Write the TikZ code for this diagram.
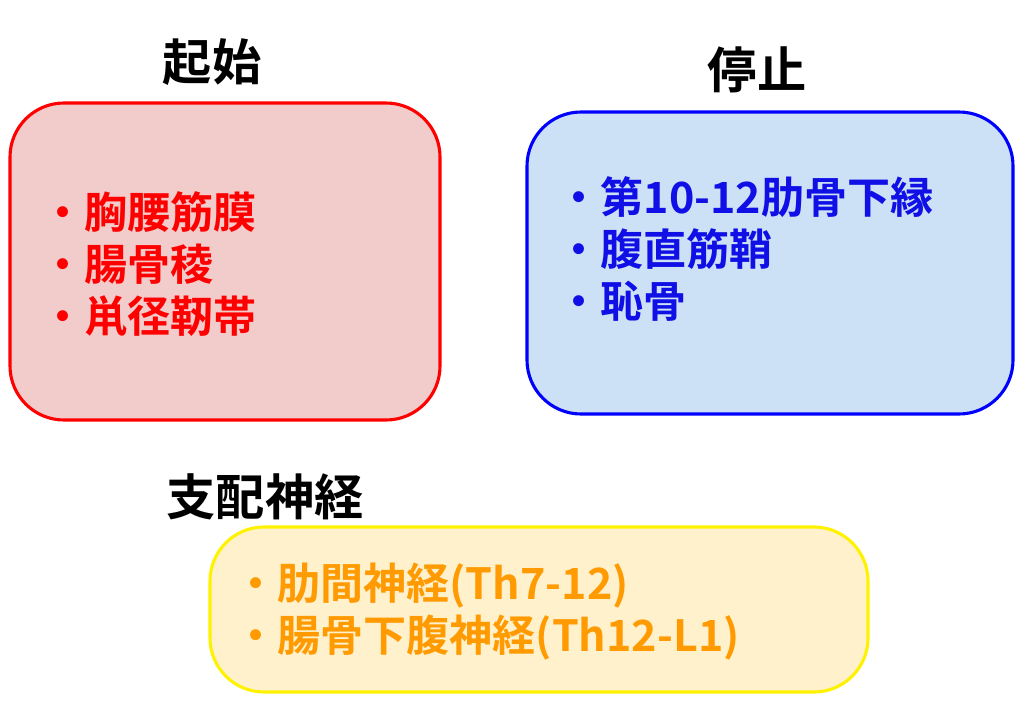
\documentclass[tikz,border=0pt]{standalone}
\usepackage{fontspec}
\setmainfont{Noto Sans CJK JP}[BoldFont={Noto Sans CJK JP Bold}]
\usetikzlibrary{positioning}

\definecolor{originfill}{HTML}{F2CBCB}
\definecolor{insertfill}{HTML}{CCE0F6}
\definecolor{nervefill}{HTML}{FFF1CC}
\definecolor{nervetext}{HTML}{FF9A00}
\definecolor{inserttext}{HTML}{0F0FE6}

\begin{document}
\begin{tikzpicture}[x=0.025cm, y=-0.025cm, line width=2.2pt,
  panel/.style={rounded corners=1.35cm},
  heading/.style={font=\fontsize{35}{40}\selectfont\bfseries, inner sep=0pt},
  items/.style={font=\fontsize{30.6}{37}\selectfont\bfseries, align=left, inner sep=0pt, anchor=west}]

  \useasboundingbox (0,0) rectangle (1024,702);

  % Panels
  \draw[panel, draw=red, fill=originfill] (10,103) rectangle (440,420);
  \draw[panel, draw=blue, fill=insertfill] (527,112) rectangle (1013,414);
  \draw[panel, draw=yellow, fill=nervefill] (210,527) rectangle (868,692);

  % Headings
  \node[heading] (origin) at (212,62) {起始};
  \node[heading] (insertion) at (757,70) {停止};
  \node[heading] (nerve) at (265,497) {支配神経};

  % Lists
  \node[items, text=red] (originlist) at (40,264)
    {・胸腰筋膜\\・腸骨稜\\・鼡径靭帯};
  \node[items, text=inserttext] (insertlist) at (556,249)
    {・第10-12肋骨下縁\\・腹直筋鞘\\・恥骨};
  \node[items, text=nervetext] (nervelist) at (233,612)
    {・肋間神経(Th7-12)\\・腸骨下腹神経(Th12-L1)};

\end{tikzpicture}
\end{document}
